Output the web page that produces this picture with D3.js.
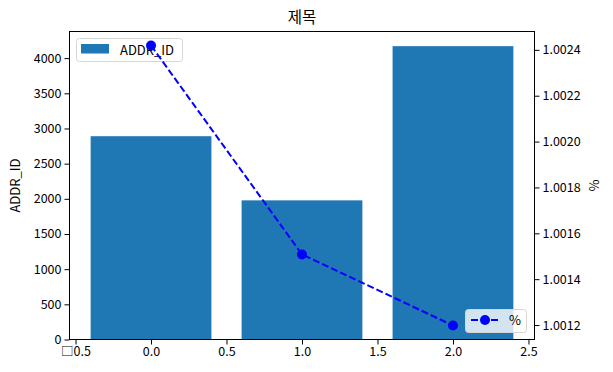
<!DOCTYPE html>
<html>
<head>
<meta charset="utf-8">
<script src="https://cdn.jsdelivr.net/npm/d3@7"></script>
<style>
  body { margin: 0; background: #fff; }
  text { font-family: "Noto Sans CJK KR", "Noto Sans", sans-serif; fill: #000; }
</style>
</head>
<body>
<svg id="chart" width="613" height="372"></svg>
<script>
            // data
            var categories = [0, 1, 2];
            var addrValues = [2890, 1978, 4170];
            var pctValues = [1.002419, 1.001508, 1.001198];
            var xTicks = [-0.5, 0.0, 0.5, 1.0, 1.5, 2.0, 2.5];
            var leftTicks = [0, 500, 1000, 1500, 2000, 2500, 3000, 3500, 4000];
            var rightTicks = [1.0012, 1.0014, 1.0016, 1.0018, 1.0020, 1.0022, 1.0024];

            // plot box (window.top is read-only, so no bare "top")
            var plotL = 69.5, plotR = 534.5, plotT = 31.5, plotB = 339.5;
            var barWidth = 0.8;

            var svg = d3.select("#chart");

            var x = d3.scaleLinear().domain([-0.54, 2.54]).range([plotL, plotR]);
            var y = d3.scaleLinear().domain([0, 4378.5]).range([plotB, plotT]);
            var y2 = d3.scaleLinear().domain([1.001137, 1.002480]).range([plotB, plotT]);

            // bars
            svg.selectAll("rect.bar")
               .data(categories)
               .enter()
               .append("rect")
               .attr("class", "bar")
               .attr("x", function(d) { return x(d - barWidth / 2); })
               .attr("y", function(d, i) { return y(addrValues[i]); })
               .attr("width", function(d) { return x(d + barWidth / 2) - x(d - barWidth / 2); })
               .attr("height", function(d, i) { return plotB - y(addrValues[i]); })
               .attr("fill", "#1f77b4");

            // legend for bars (ax1, under the line)
            svg.append("rect")
               .attr("x", 76.5).attr("y", 38.5)
               .attr("width", 106).attr("height", 23)
               .attr("rx", 3)
               .attr("fill", "rgba(255,255,255,0.8)")
               .attr("stroke", "#d6d6d6");
            svg.append("rect")
               .attr("x", 81).attr("y", 44)
               .attr("width", 28).attr("height", 9.5)
               .attr("fill", "#1f77b4");
            svg.append("text")
               .attr("x", 120).attr("y", 55)
               .attr("font-size", "13px")
               .text("ADDR_ID");

            // axes
            var fmtX = function(d) { return d < 0 ? "\u25A1" + d3.format(".1f")(-d) : d3.format(".1f")(d); };
            var xAxis = d3.axisBottom(x).tickValues(xTicks).tickFormat(fmtX).tickSizeOuter(0).tickSize(5).tickPadding(3);
            var yAxis = d3.axisLeft(y).tickValues(leftTicks).tickFormat(d3.format("d")).tickSizeOuter(0).tickSize(5).tickPadding(3);
            var y2Axis = d3.axisRight(y2).tickValues(rightTicks).tickFormat(d3.format(".4f")).tickSizeOuter(0).tickSize(5).tickPadding(3);

            svg.append("g").attr("transform", "translate(0," + plotB + ")").call(xAxis);
            svg.append("g").attr("transform", "translate(" + plotL + ",0)").call(yAxis);
            svg.append("g").attr("transform", "translate(" + plotR + ",0)").call(y2Axis);

            svg.selectAll(".tick text")
               .attr("font-size", "12.5px")
               .attr("font-family", "'Noto Sans CJK KR', 'Noto Sans', sans-serif")
               .attr("fill", "#000");
            svg.selectAll(".tick line").attr("stroke", "#000");
            svg.selectAll(".domain").remove();

            // frame
            svg.append("rect")
               .attr("x", plotL).attr("y", plotT)
               .attr("width", plotR - plotL).attr("height", plotB - plotT)
               .attr("fill", "none")
               .attr("stroke", "#000")
               .attr("stroke-width", 1);

            // dashed line with markers (ax2)
            var line = d3.line()
               .x(function(d) { return x(d); })
               .y(function(d, i) { return y2(pctValues[i]); });

            svg.append("path")
               .datum(categories)
               .attr("d", line)
               .attr("fill", "none")
               .attr("stroke", "#0000ff")
               .attr("stroke-width", 2)
               .attr("stroke-dasharray", "7,3");

            svg.selectAll("circle.pt")
               .data(categories)
               .enter()
               .append("circle")
               .attr("class", "pt")
               .attr("cx", function(d) { return x(d); })
               .attr("cy", function(d, i) { return y2(pctValues[i]); })
               .attr("r", 5)
               .attr("fill", "#0000ff");

            // legend for line
            svg.append("rect")
               .attr("x", 465.5).attr("y", 309.5)
               .attr("width", 61).attr("height", 23)
               .attr("rx", 3)
               .attr("fill", "rgba(255,255,255,0.8)")
               .attr("stroke", "#d6d6d6");
            svg.append("line")
               .attr("x1", 471).attr("x2", 499)
               .attr("y1", 320).attr("y2", 320)
               .attr("stroke", "#0000ff")
               .attr("stroke-width", 2)
               .attr("stroke-dasharray", "7,3");
            svg.append("circle")
               .attr("cx", 485).attr("cy", 320).attr("r", 5)
               .attr("fill", "#0000ff");
            svg.append("text")
               .attr("x", 509).attr("y", 325)
               .attr("font-size", "13px")
               .text("%");

            // titles
            svg.append("text")
               .attr("x", (plotL + plotR) / 2).attr("y", 23)
               .attr("text-anchor", "middle")
               .attr("font-size", "15.5px")
               .text("제목");
            svg.append("text")
               .attr("transform", "translate(20," + ((plotT + plotB) / 2) + ") rotate(-90)")
               .attr("text-anchor", "middle")
               .attr("font-size", "13px")
               .text("ADDR_ID");
            svg.append("text")
               .attr("transform", "translate(599," + ((plotT + plotB) / 2) + ") rotate(-90)")
               .attr("text-anchor", "middle")
               .attr("font-size", "13px")
               .text("%");
</script>
</body>
</html>
